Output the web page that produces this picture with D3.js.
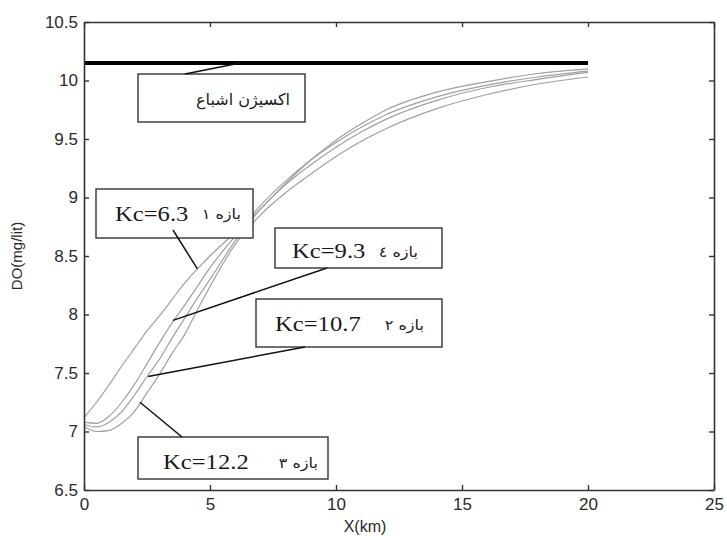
<!DOCTYPE html>
<html><head><meta charset="utf-8">
<script src="https://cdn.jsdelivr.net/npm/d3@7/dist/d3.min.js"></script>
<style>body{margin:0;background:#fff}</style></head>
<body>
<svg id="c" width="727" height="536"></svg>
<script>
// ---- data ----
const xKm = [0,0.5,1,1.5,2,2.5,3,3.5,4,4.5,5,6,7,8,9,10,11,12,14,16,18,20];
const doKc63  = [7.12,7.25,7.40,7.56,7.71,7.86,7.99,8.13,8.27,8.39,8.50,8.70,8.90,9.12,9.32,9.49,9.63,9.75,9.90,9.99,10.06,10.10];
const doKc93  = [7.08,7.07,7.13,7.25,7.40,7.58,7.76,7.93,8.08,8.24,8.40,8.67,8.93,9.14,9.32,9.47,9.60,9.71,9.86,9.96,10.03,10.08];
const doKc107 = [7.06,7.04,7.08,7.17,7.31,7.47,7.62,7.80,7.97,8.14,8.30,8.63,8.90,9.11,9.28,9.43,9.56,9.67,9.83,9.94,10.01,10.07];
const doKc122 = [7.04,7.00,7.01,7.07,7.17,7.33,7.49,7.67,7.83,8.04,8.24,8.60,8.85,9.04,9.20,9.35,9.48,9.59,9.76,9.88,9.97,10.03];
const satX = [0,20];
const satDO = 10.15;
const kcLabels = ["Kc=6.3","Kc=9.3","Kc=10.7","Kc=12.2"];
const reachLabels = ["بازه ۱","بازه ٤","بازه ۲","بازه ۳"];
const satLabel = "اکسیژن اشباع";
const xTicks = [0,5,10,15,20,25];
const yTicks = [6.5,7,7.5,8,8.5,9,9.5,10,10.5];
const xTitle = "X(km)";
const yTitle = "DO(mg/lit)";

const svg = d3.select("#c");
const x = d3.scaleLinear().domain([0,25]).range([84,714]);
const y = d3.scaleLinear().domain([6.5,10.5]).range([490,22]);
const axisCol = "#333";

// curves
const series = [doKc63, doKc93, doKc107, doKc122];
const line = d3.line().x((d,i)=>x(xKm[i])).y(d=>y(d)).curve(d3.curveMonotoneX);
svg.append("g").selectAll("path").data(series).join("path")
  .attr("d", d=>line(d)).attr("fill","none").attr("stroke","#a0a0a0").attr("stroke-width",1.2);

// saturation line
svg.append("line").attr("x1",x(satX[0])).attr("x2",x(satX[1]))
  .attr("y1",y(satDO)).attr("y2",y(satDO)).attr("stroke","#000").attr("stroke-width",4);

// axes
function styleAxis(g){
  g.select(".domain").attr("stroke",axisCol).attr("stroke-width",1.6);
  g.selectAll(".tick line").attr("stroke",axisCol).attr("stroke-width",1.4);
  g.selectAll("text").attr("fill","#2a2a2a").attr("font-family","Liberation Sans, Arial, sans-serif").attr("font-size",17);
}
const yFmt = d=>String(d);
svg.append("g").attr("transform",`translate(${x(0)},0)`)
  .call(d3.axisLeft(y).tickValues(yTicks).tickFormat(yFmt).tickSizeInner(-5).tickSizeOuter(0).tickPadding(6)).call(styleAxis);
svg.append("g").attr("transform",`translate(${x(25)},0)`)
  .call(d3.axisRight(y).tickValues(yTicks).tickFormat("").tickSizeInner(-5).tickSizeOuter(0)).call(styleAxis);
svg.append("g").attr("transform",`translate(0,${y(6.5)})`)
  .call(d3.axisBottom(x).tickValues(xTicks).tickFormat(d=>String(d)).tickSizeInner(-5).tickSizeOuter(0).tickPadding(8)).call(styleAxis);
svg.append("g").attr("transform",`translate(0,${y(10.5)})`)
  .call(d3.axisTop(x).tickValues(xTicks).tickFormat("").tickSizeInner(-5).tickSizeOuter(0)).call(styleAxis);

// titles
svg.append("text").attr("x",365).attr("y",532).attr("text-anchor","middle")
  .attr("font-family","Liberation Sans, Arial, sans-serif").attr("font-size",16).attr("fill","#2a2a2a").text(xTitle);
svg.append("text").attr("transform","translate(22,256) rotate(-90)").attr("text-anchor","middle")
  .attr("font-family","Liberation Sans, Arial, sans-serif").attr("font-size",15).attr("fill","#2a2a2a").text(yTitle);

// annotation boxes
const boxes = [
  {r:[138,74,305,122], leader:[185,74, x(6.2), y(satDO)]},
  {r:[96,189,253,238], leader:[173,230, x(4.5), y(8.39)]},
  {r:[275,228,442,268], leader:[327,268, x(3.53), y(7.95)]},
  {r:[256,299,442,347], leader:[305,347, x(2.54), y(7.47)]},
  {r:[138,437,328,479], leader:[182,437, x(2.22), y(7.25)]}
];
boxes.forEach(b=>{
  svg.append("rect").attr("x",b.r[0]).attr("y",b.r[1]).attr("width",b.r[2]-b.r[0]).attr("height",b.r[3]-b.r[1])
    .attr("fill","#fff").attr("stroke","#333").attr("stroke-width",1.4);
});
boxes.forEach(b=>{
  svg.append("line").attr("x1",b.leader[0]).attr("y1",b.leader[1]).attr("x2",b.leader[2]).attr("y2",b.leader[3])
    .attr("stroke","#111").attr("stroke-width",1.5);
});
// saturation text
svg.append("text").attr("x",290).attr("y",105).attr("text-anchor","end")
  .attr("font-family","DejaVu Sans, sans-serif").attr("font-size",16).attr("fill","#222").text(satLabel);

// Kc labels
const kcPos = [[115,221],[292,258],[275,331],[163,469]];
const reachPos = [[241,219],[418,257],[424,330],[318,468]];
kcLabels.forEach((t,i)=>{
  svg.append("text").attr("transform",`translate(${kcPos[i][0]},${kcPos[i][1]}) scale(1.12,1)`)
    .attr("font-family","Liberation Serif, Times New Roman, serif").attr("font-size",22).attr("fill","#1a1a1a").text(t);
  svg.append("text").attr("transform",`translate(${reachPos[i][0]},${reachPos[i][1]}) scale(1.15,1)`).attr("text-anchor","end")
    .attr("font-family","DejaVu Sans, sans-serif").attr("font-size",14).attr("fill","#222").text(reachLabels[i]);
});
</script>
</body></html>
